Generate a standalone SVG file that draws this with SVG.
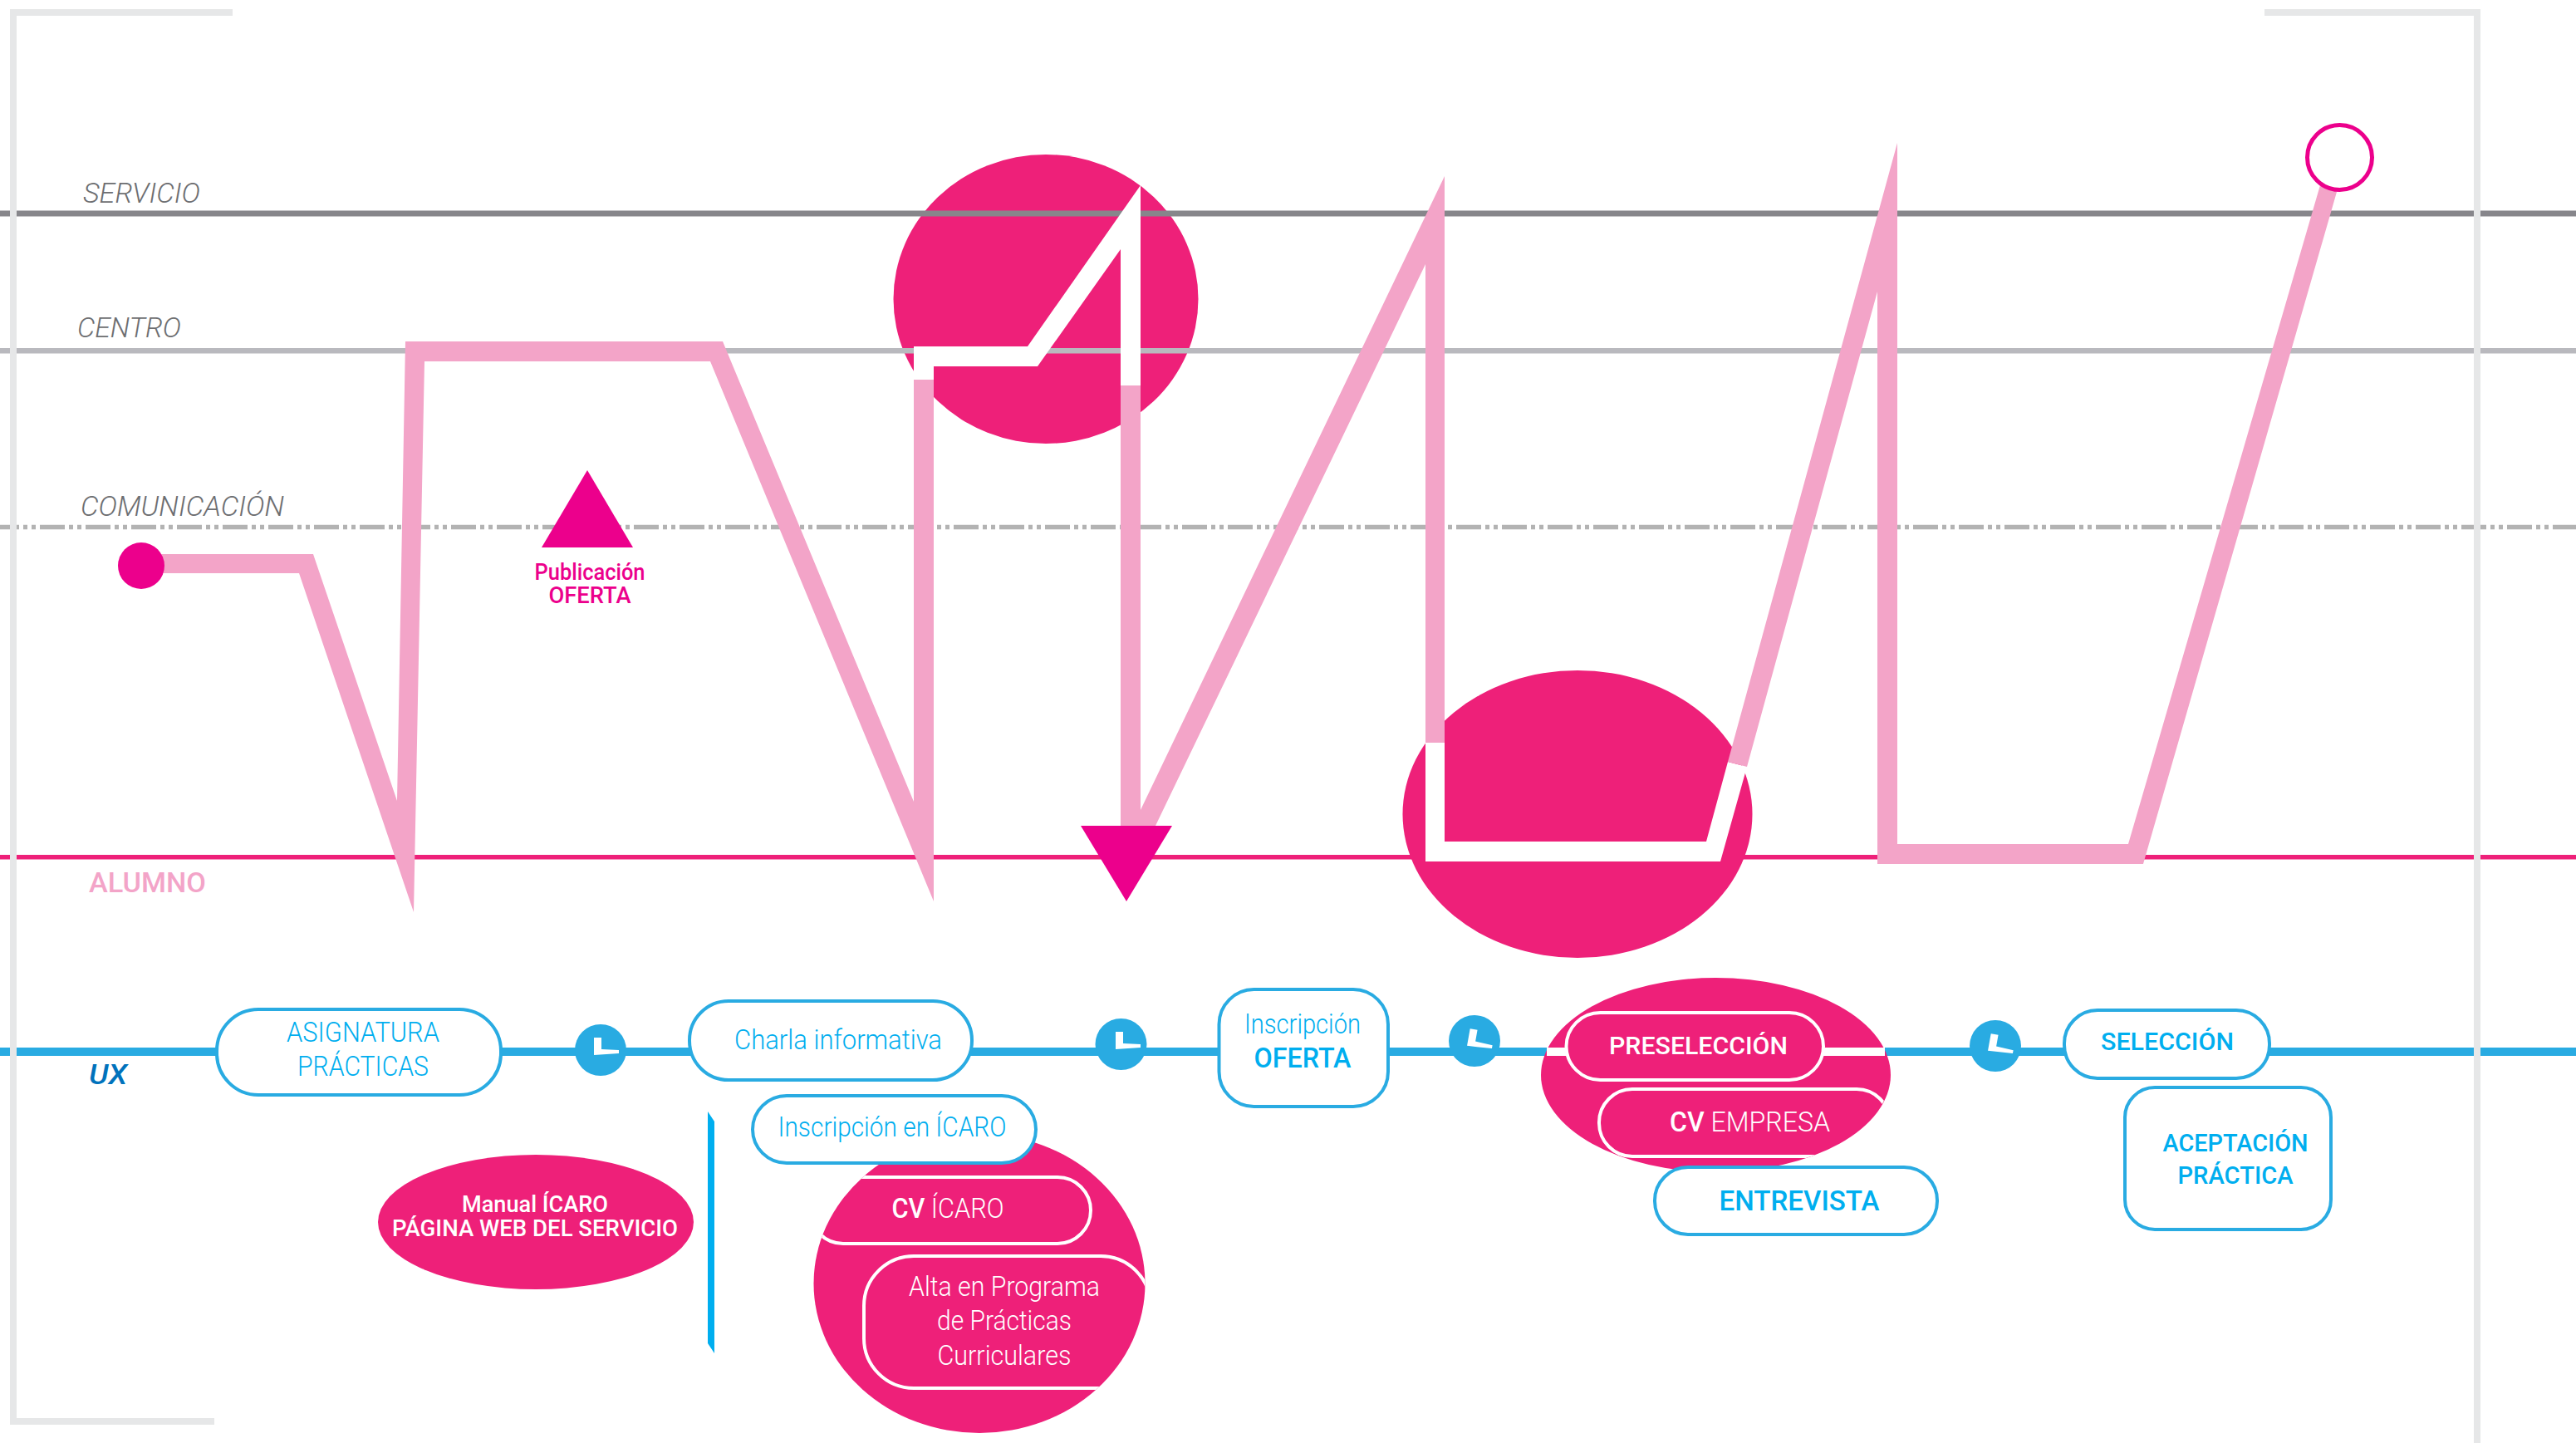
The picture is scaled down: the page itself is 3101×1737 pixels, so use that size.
<svg xmlns="http://www.w3.org/2000/svg" width="3101" height="1737" viewBox="0 0 3101 1737">
<style>
text{font-family:Roboto,"Liberation Sans",sans-serif;text-anchor:middle;font-size:33px;font-weight:300}
.lane{fill:#6d6e71;font-style:italic;text-anchor:start;font-size:33px}
.blue{fill:#00AEEF}
.white{fill:#fff}
.med{font-weight:500}
.mag{fill:#EC008C;font-weight:500;font-size:27px}
.small{font-size:27px}
.alum{fill:#F3A4C8;font-weight:500}
.ux{fill:#0072BC;font-style:italic;font-weight:500}
.box{fill:#fff;stroke:#29ABE2;stroke-width:4}
.wbox{fill:none;stroke:#fff;stroke-width:4}
.blob{fill:#EE2079}
.pink{fill:#F3A4C8}
.wpath{fill:#fff}
.clk{fill:#29ABE2}
.frame{fill:none;stroke:#E6E7E8;stroke-width:8}
</style>
<defs>
<clipPath id="c3"><ellipse cx="1179" cy="1545" rx="199.5" ry="180"/></clipPath>
<clipPath id="c4"><ellipse cx="2065.5" cy="1294" rx="210" ry="117"/></clipPath>
<g id="hand"><polygon points="-6,-15 3,-15 3,-1 24,0 24,4 -6,6" fill="#fff"/></g>
</defs>
<rect width="3101" height="1737" fill="#fff"/>
<g id="blob-1"><ellipse class="blob" cx="1259" cy="360" rx="183.5" ry="174"/></g>
<g id="lanes">
<rect x="0" y="253.500" width="3101" height="7" fill="#87868B"/>
<rect x="0" y="419" width="3101" height="6.500" fill="#B9B9BE"/>
<line x1="0" y1="634.500" x2="3101" y2="634.500" stroke="#B3B3B3" stroke-width="5.500" stroke-dasharray="30 5 5 5 5 5" stroke-dashoffset="7"/>
<rect x="0" y="1029" width="3101" height="5.500" fill="#EE2079"/>
<rect x="0" y="1261" width="3101" height="10" fill="#29ABE2"/>
</g>
<g id="blob-2"><ellipse class="blob" cx="1899" cy="980" rx="210.500" ry="173"/></g>
<g id="lane-labels">
<text class="lane" x="100" y="244" textLength="141" lengthAdjust="spacingAndGlyphs">SERVICIO</text>
<text class="lane" x="93" y="406" textLength="125" lengthAdjust="spacingAndGlyphs">CENTRO</text>
<text class="lane" x="97" y="621" textLength="245" lengthAdjust="spacingAndGlyphs">COMUNICACIÓN</text>
<text class="alum" x="177.500" y="1074" textLength="141" lengthAdjust="spacingAndGlyphs">ALUMNO</text>
<text class="ux" x="130" y="1305" textLength="46" lengthAdjust="spacingAndGlyphs">UX</text>
</g>
<g id="connectors">
<polygon class="pink" points="170,667 377,667 478,964 488,411 870,411 1100,965 1100,457 1124,457 1124,1085 855,435 511,435 498,1098 360,690 170,690"/>
<polygon class="wpath" points="1100,457 1100,417 1237,417 1373,223 1373,464 1349,464 1349,300 1249,441 1124,441 1124,457"/>
<polygon class="pink" points="1349,464 1373,464 1373,975 1739,212 1739,894 1716,894 1716,318 1391,994 1349,994"/>
<polygon class="wpath" points="1716,894 1739,894 1739,1013 2054,1013 2080,917 2103,923 2071,1037 1716,1037"/>
<polygon class="pink" points="2080,917 2284,172 2284,1016 2562,1016 2793,223 2813,231 2580,1040 2260,1040 2260,351 2103,923"/>
</g>
<g id="start"><ellipse cx="170" cy="681" rx="28" ry="28" fill="#EC008C"/></g>
<g id="end"><circle cx="2816.500" cy="189.500" r="39" fill="#fff" stroke="#EC008C" stroke-width="5"/></g>
<g id="publicacion">
<polygon points="707,566 652,659 762,659" fill="#EC008C"/>
<text class="mag" x="710" y="698" textLength="133" lengthAdjust="spacingAndGlyphs">Publicación</text>
<text class="mag" x="710" y="726" textLength="99" lengthAdjust="spacingAndGlyphs">OFERTA</text>
</g>
<g id="down-marker"><polygon points="1301,994 1411,994 1356,1085" fill="#EC008C"/></g>
<g id="asignatura">
<rect class="box" x="261" y="1215" width="342" height="103" rx="50"/>
<text class="blue" x="437" y="1254" textLength="184" lengthAdjust="spacingAndGlyphs">ASIGNATURA</text>
<text class="blue" x="437" y="1295" textLength="158" lengthAdjust="spacingAndGlyphs">PRÁCTICAS</text>
</g>
<g id="clock-1"><circle class="clk" cx="723" cy="1264" r="31"/><use href="#hand" transform="translate(721,1264)"/></g>
<g id="charla">
<rect class="box" x="830" y="1205" width="340" height="95" rx="47"/>
<text class="blue" x="1009" y="1263" textLength="250" lengthAdjust="spacingAndGlyphs">Charla informativa</text>
</g>
<g id="clock-2"><circle class="clk" cx="1349.500" cy="1257" r="31"/><use href="#hand" transform="translate(1349,1257)"/></g>
<g id="oferta">
<rect class="box" x="1467.500" y="1191" width="203.500" height="141" rx="42"/>
<text class="blue" x="1568" y="1244" textLength="140" lengthAdjust="spacingAndGlyphs">Inscripción</text>
<text class="blue med" x="1568" y="1285" textLength="117" lengthAdjust="spacingAndGlyphs">OFERTA</text>
</g>
<g id="clock-3"><circle class="clk" cx="1775" cy="1253" r="31"/><use href="#hand" transform="translate(1773,1254) rotate(10)"/></g>
<g id="clock-4"><circle class="clk" cx="2402" cy="1259" r="31"/><use href="#hand" transform="translate(2400,1260) rotate(10)"/></g>
<g id="manual">
<ellipse class="blob" cx="645" cy="1471" rx="190" ry="81"/>
<text class="white med small" x="644" y="1459" textLength="176" lengthAdjust="spacingAndGlyphs">Manual ÍCARO</text>
<text class="white med small" x="644" y="1488" textLength="344" lengthAdjust="spacingAndGlyphs">PÁGINA WEB DEL SERVICIO</text>
</g>
<g id="bar"><polygon points="852,1338 860,1350 860,1629 852,1617" fill="#00AEEF"/></g>
<g id="icaro">
<ellipse class="blob" cx="1179" cy="1545" rx="199.500" ry="180"/>
<g clip-path="url(#c3)">
<rect class="wbox" x="975" y="1417" width="338" height="80" rx="40"/>
<rect class="wbox" x="1040" y="1512" width="345" height="159" rx="60"/>
</g>
<rect class="box" x="906" y="1319" width="341" height="81" rx="41"/>
<text class="blue" x="1074" y="1368" textLength="275" lengthAdjust="spacingAndGlyphs">Inscripción en ÍCARO</text>
<text class="white" x="1141" y="1466" textLength="135" lengthAdjust="spacingAndGlyphs"><tspan class="med">CV</tspan> ÍCARO</text>
<text class="white" x="1209" y="1560" textLength="230" lengthAdjust="spacingAndGlyphs">Alta en Programa</text>
<text class="white" x="1209" y="1601" textLength="162" lengthAdjust="spacingAndGlyphs">de Prácticas</text>
<text class="white" x="1209" y="1643" textLength="161" lengthAdjust="spacingAndGlyphs">Curriculares</text>
</g>
<g id="preseleccion">
<ellipse class="blob" cx="2065.500" cy="1294" rx="210.500" ry="117"/>
<rect x="1862" y="1261" width="407" height="10" fill="#fff"/>
<rect x="1885.500" y="1219" width="309.500" height="81" rx="41" fill="#EE2079" stroke="#fff" stroke-width="4"/>
<g clip-path="url(#c4)"><rect class="wbox" x="1925" y="1311" width="350" height="81" rx="40"/></g>
<rect class="box" x="1992" y="1405" width="340" height="81" rx="40"/>
<text class="white med" x="2044.500" y="1269" style="font-size:30px" textLength="215" lengthAdjust="spacingAndGlyphs">PRESELECCIÓN</text>
<text class="white" x="2106.500" y="1362" textLength="193" lengthAdjust="spacingAndGlyphs"><tspan class="med">CV</tspan> EMPRESA</text>
<text class="blue med" x="2166" y="1457" textLength="193" lengthAdjust="spacingAndGlyphs">ENTREVISTA</text>
</g>
<g id="seleccion">
<rect class="box" x="2485" y="1216" width="247" height="82" rx="40"/>
<text class="blue med" x="2609" y="1264" style="font-size:30px" textLength="160" lengthAdjust="spacingAndGlyphs">SELECCIÓN</text>
</g>
<g id="aceptacion">
<rect class="box" x="2558" y="1309" width="248" height="171" rx="36"/>
<text class="blue med" x="2691" y="1386" style="font-size:30px" textLength="175" lengthAdjust="spacingAndGlyphs">ACEPTACIÓN</text>
<text class="blue med" x="2691" y="1425" style="font-size:30px" textLength="139" lengthAdjust="spacingAndGlyphs">PRÁCTICA</text>
</g>
<g id="frame">
<polyline class="frame" points="280,15 16,15 16,1711 258,1711"/>
<polyline class="frame" points="2726,15 2982,15 2982,1737"/>
</g>
</svg>
